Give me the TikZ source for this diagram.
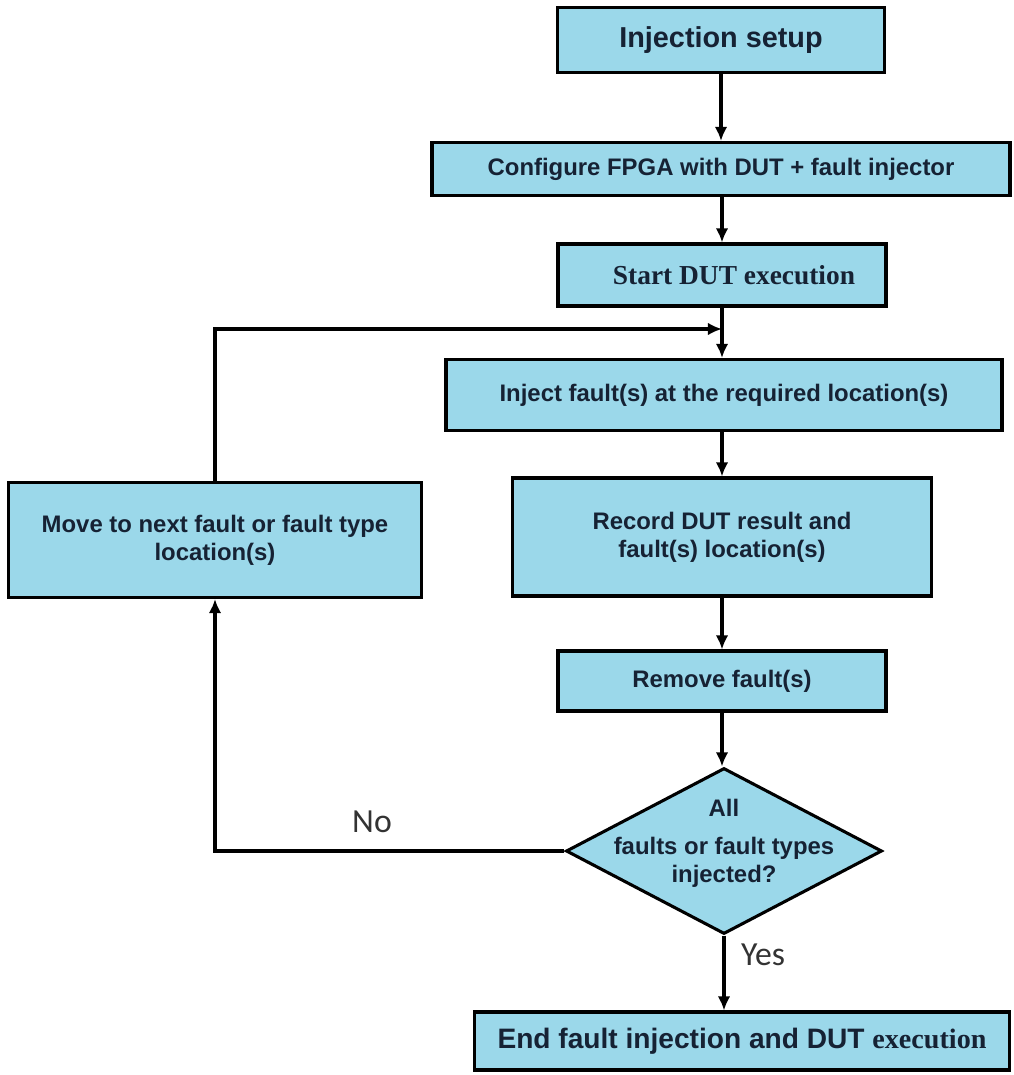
\documentclass[tikz,border=0pt]{standalone}
\usepackage{fontspec}
\setmainfont{Liberation Sans}
\newfontfamily\serifbold{Liberation Serif}
\newfontfamily\labelfont{Carlito}
\usetikzlibrary{arrows.meta,shapes.geometric}

\definecolor{boxfill}{RGB}{155,216,234}
\definecolor{boxtext}{RGB}{22,34,52}

\begin{document}
\begin{tikzpicture}[
    stepbox/.style={draw=black,line width=2.2pt,fill=boxfill,text=boxtext,
      font=\bfseries\fontsize{17}{20}\selectfont,align=center,inner sep=2pt},
    choice/.style={diamond,draw=black,line width=2.2pt,fill=boxfill,inner sep=0pt},
    choicetext/.style={text=boxtext,font=\bfseries\fontsize{17}{20}\selectfont,align=center},
    flow/.style={line width=2.2pt,-{Latex[length=10pt,width=9pt]}},
    lbl/.style={text=black!80,font=\labelfont\fontsize{24}{28}\selectfont}
  ]
    \useasboundingbox (0,0) rectangle (25.35,-26.875);

    \node[stepbox,minimum width=8.175cm,minimum height=1.625cm,
      font=\bfseries\fontsize{20.5}{24}\selectfont] (setup) at (18.025,-1.0) {Injection setup};
    \node[stepbox,minimum width=14.45cm,minimum height=1.325cm] (fpga) at (18.025,-4.225)
      {Configure FPGA with DUT + fault injector};
    \node[stepbox,minimum width=8.2cm,minimum height=1.55cm,
      font=\serifbold\bfseries\fontsize{19.5}{23}\selectfont] (start) at (18.05,-6.875)
      {\hspace*{0.6cm}Start DUT execution};
    \node[stepbox,minimum width=13.9cm,minimum height=1.775cm] (inject) at (18.1,-9.875)
      {Inject fault(s) at the required location(s)};
    \node[stepbox,minimum width=10.475cm,minimum height=2.95cm] (record) at (18.05,-13.425)
      {Record DUT result and\\fault(s) location(s)};
    \node[stepbox,minimum width=8.2cm,minimum height=1.5cm] (remove) at (18.05,-17.025)
      {Remove fault(s)};
    \node[choice,minimum width=7.9cm,minimum height=4.15cm] (check) at (18.1,-21.275) {};
    \node[choicetext] (checktext) at ([yshift=0.2cm]check.center)
      {All\\[7pt]faults or fault types\\injected?};
    \node[stepbox,minimum width=13.375cm,minimum height=1.45cm,
      font=\bfseries\fontsize{20}{24}\selectfont] (finish) at (18.55,-26.025)
      {End fault injection and DUT {\serifbold\bfseries execution}};
    \node[stepbox,minimum width=10.325cm,minimum height=2.875cm] (move) at (5.375,-13.5)
      {Move to next fault or fault type\\location(s)};

    \coordinate (join) at (18.05,-8.225);

    \draw[flow] (setup.south) -- (setup.south |- fpga.north);
    \draw[flow] (fpga.south -| start.north) -- (start.north);
    \draw[flow] (start.south) -- (start.south |- inject.north);
    \draw[flow] (inject.south -| record.north) -- (record.north);
    \draw[flow] (record.south) -- (record.south |- remove.north);
    \draw[flow] (remove.south) -- (remove.south |- check.north);
    \draw[flow] (check.south) -- (check.south |- finish.north);
    \draw[flow] (check.west) -| (move.south);
    \draw[flow] (move.north) |- (join);

    \node[lbl] (nolbl) at (9.3,-20.55) {No};
    \node[lbl] (yeslbl) at (19.075,-23.875) {Yes};
  \end{tikzpicture}
\end{document}
